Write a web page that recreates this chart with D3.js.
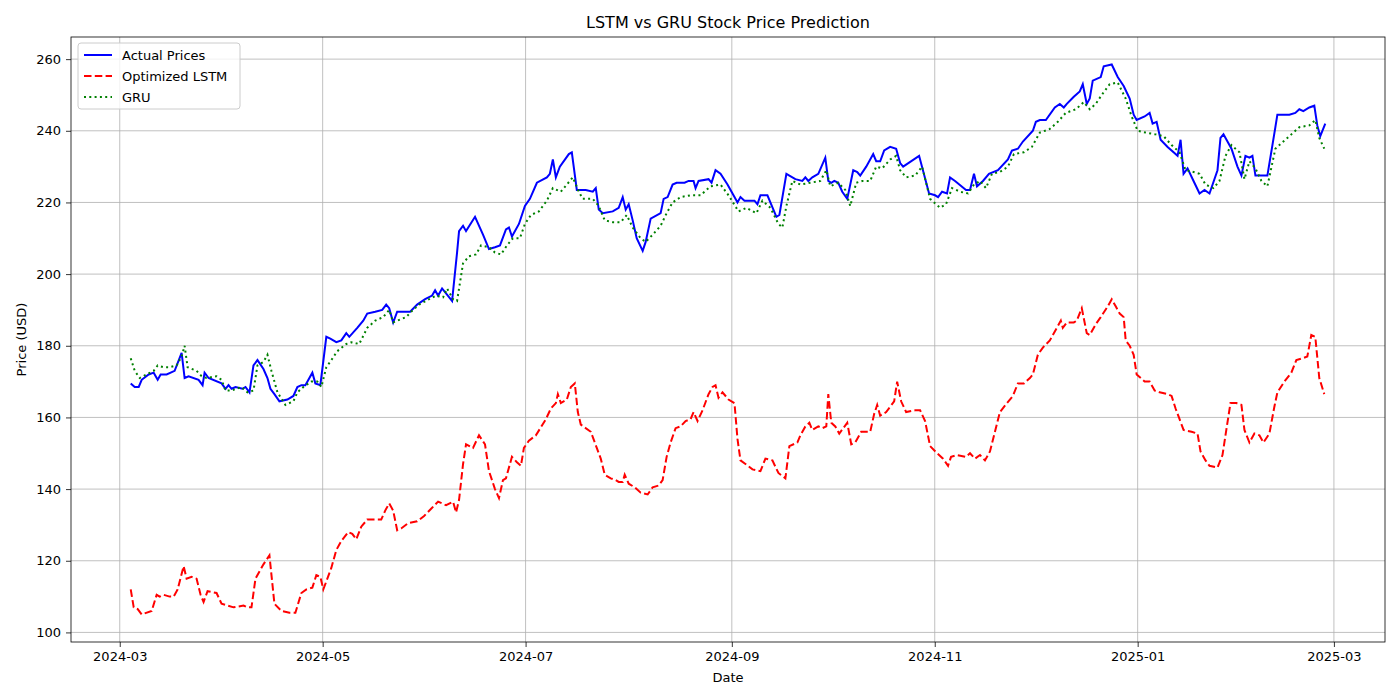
<!DOCTYPE html>
<html><head><meta charset="utf-8">
<script src="https://cdn.jsdelivr.net/npm/d3@7"></script>
<style>body{margin:0;background:#fff;font-family:"DejaVu Sans",sans-serif}</style>
</head><body><svg id="c" width="1400" height="700"></svg>
<script>
// x values: days since 2024-03-01
const actualDays=[3.3,4.5,5.7,6.6,8.7,10.2,11.4,12.3,14.1,16.5,18.6,19.5,20.7,23.7,24.9,25.5,26.7,30.6,31.8,32.7,33.6,34.8,36.9,37.8,39,40.2,41.4,43.2,44.4,45.3,46.5,48,50.4,52.2,53.4,54.6,55.8,57.9,58.8,60.3,62.1,63.3,65.1,66.6,68.1,69,71.4,73.2,74.4,76.8,78.9,80.1,81,82.2,83.4,87.3,89.4,91.8,93.9,94.8,95.7,96.9,99.9,101.4,102,103.2,104.1,106.8,109.2,111,112.8,114.3,116.1,117,117.9,120,121.8,123.3,125.4,128.4,129.3,130.2,131.1,132.3,135,135.9,137.4,140.1,142.2,143.1,144,145.2,148.2,150,151.2,152.1,153,154.2,155.4,157.2,158.1,159.6,162.6,163.5,164.7,166.2,167.4,169.8,171,172.5,173.1,174,177,177.9,179.1,180.6,182.7,184.8,185.7,186.6,187.8,190.8,191.7,192.6,194.7,197.4,198.3,200.4,203.1,205.2,206.1,207,208.2,210,212.1,213,213.9,214.8,216,217.2,218.7,220.5,221.7,222.6,224.4,226.5,227.4,228.6,229.8,231.6,233.4,234.6,235.5,240.3,243.3,245.1,246,247.2,248.7,249.6,251.1,254.4,255.6,256.8,257.7,259.5,261.3,264,267,268.2,270,271.5,274.5,275.4,276.6,278.4,281.1,282.6,283.8,284.7,286.8,288.6,289.5,290.7,291.6,292.5,294.9,295.8,298.2,300,301.8,303.6,304.8,305.7,308.1,309.6,310.5,311.7,312.9,315,316.8,318,318.9,319.8,321,322.8,324.6,326.1,327.6,330,330.9,331.8,334.2,336,337.2,338.4,339.6,340.5,341.4,343.8,345,347.4,348,351.6,353.4,354.6,355.8,357.6,359.1,360,360.9,362.4];
const actual=[169.5,168.5,168.5,170.5,172,172.5,170.5,172,172,173,178,171,171.5,170.5,169,172.5,171,169.5,168,169,168,168.5,168,168.5,167,174.5,176,173.5,171,168,166.5,164.5,165,166,168.5,169,169,172.5,169.5,169,182.5,182,181,181.5,183.5,182.5,185,187,189,189.5,190,191.5,190.5,186.5,189.5,189.5,191.5,193,194,195.5,194,196,192.5,206,212,213.5,212,216,211,207,207.5,208,212.5,213,210.5,214,219,221,225.5,227,228,232,227,230,233.5,234,223.5,223.5,223,224,218,217,217.5,218.5,221.5,218,219.5,215,210,206.5,209,215.5,217,221,221.5,225,225.5,225.5,226,226,224,226,226.5,225.5,229,228,225,221.5,220,221.5,220.5,220.5,219.5,222,222,216,216.5,228,226.5,226,227,226,227,228,232.5,226,225.5,226,225.5,223,221,229,228.5,227.5,230,233.5,231.5,231.5,234.5,235.5,235,231,230,233,222.5,222,221.5,223,222.5,227,226,223.5,223.5,228,224.5,226,228,229,232,234.5,235,237,240,242.5,243,243,246.5,247.5,246.5,247.5,249.5,251,253,247.5,249,254,255,258,258.5,255,252.5,249,244.5,243,244,245,242,242.5,237.5,235.5,234,233,237.5,228,229.5,226,222.5,223.5,222.5,229,238,239,235,230,227.5,233,232.5,233,227.5,227.5,227.5,241,244.5,244.5,245,246,245.5,246.5,247,241.5,238.5,242];
const lstmDays=[3.3,4.2,5.4,6.6,9.6,11.1,12,13.2,15,16.2,17.4,19.2,20.1,21.6,23.1,24.3,25.2,26.4,29.1,30.6,32.4,34.2,37.2,38.4,39.6,40.8,42,43.2,45,46.5,48.6,51,52.8,54.6,56.1,57.9,59.1,60.3,61.2,63.6,65.1,66.6,68.7,69.9,71.1,72.6,74.4,76.8,78.6,79.8,81,82.2,83.4,84.6,86.7,89.4,91.5,93.6,95.7,98.1,100.2,101.1,102,103.2,104.1,106.2,108,109.8,111,112.8,114,115.2,116.1,117.9,119.4,120.6,121.5,123,125.1,128.1,129.6,131.1,131.7,132.6,134.4,135.6,136.8,137.7,138.6,141.6,143.4,144.6,145.8,147.6,149.1,150,151.2,151.8,153,154.8,156.6,158.7,160.2,162,163.2,164.4,165.6,167.1,168.6,170.1,171.6,172.5,173.7,175.2,177,178.2,179.1,180,181.2,183,184.8,185.7,186.6,188.1,190.2,192.6,194.1,196.2,198,200.1,201.3,203.7,204.6,206.1,207.3,208.2,210,211.2,212.4,213,213.9,215.1,216.3,217.5,218.7,219.9,221.1,222.9,225.6,226.8,227.7,228.6,230.4,231.6,232.8,233.7,234.9,236.4,239.1,240.6,242.1,243.6,245.7,247.5,249,249.9,251.7,254.4,255.6,257.1,258.6,260.1,261.6,263.1,264.6,266.7,268.5,270,271.8,273.6,274.5,276,277.5,279.6,281.1,282.9,283.5,284.7,286.8,287.7,289.2,290.7,291.6,293.4,294.9,297,298.2,299.4,300.6,301.8,302.4,303.6,304.8,305.7,308.1,309.6,311.1,312.6,315,316.2,317.4,318.6,319.8,322.2,324,324.9,326.4,327.6,330,331.5,332.4,333.9,335.7,337.2,338.1,339.6,341.1,342.6,343.8,345.6,347.1,348,350.1,352.2,353.7,355.5,357,358.2,359.4,360.6,362.1];
const lstm=[112,107,106.5,105,106,110.5,110,110.5,110,110,112,118.5,115,115.5,115,110.5,108.5,111.5,111,108,107.5,107,107.5,107,107,115,117,119,121.5,108,106,105.5,105.5,111,112,112.5,116,115.5,112,118,123,125.5,128,127.5,126,129.5,131.5,131.5,131.5,134,136,134,128.5,129,130.5,131,132.5,134.5,136.5,135.5,136.5,133.5,137,147,152.5,151.5,155,152.5,145,140,137.5,142.5,143,149,147.5,146.5,151.5,153.5,155,159.5,162.5,164,166.5,164,165,168.5,169.5,161.5,158,156,151.5,148.5,144,143,142.5,142,142,144,141.5,140.5,139,138.5,140.5,141,142.5,149,153,157,157.5,159,159.5,161.5,159,162,166.5,168.5,169,165.5,167,165,164,154,148,147,145.5,145,148.5,148,144.5,143,152,153,155,157.5,158.5,156.5,157.5,157,157.5,166.5,158.5,157.5,155.5,157,158.5,152.5,153,156,156,161,163.5,160.5,161.5,163,164.5,170,164.5,161.5,162,162,159,152,150,148.5,146.5,149,149.5,149,150,148.5,149.5,148,150.5,156,161.5,164,166,169.5,169.5,171,172,177.5,179.5,181.5,184,187,185,186.5,186.5,187,190.5,183.5,183,186,188,191,193,191,189,188,181.5,180,177.5,172,170,170,167.5,167,166.5,166,162.5,159.5,156.5,156,155.5,150.5,148,146.5,146,149.5,155,164,164,163.5,156.5,153,155.5,155,153,155.5,163,167,170,172.5,176,176.5,177,183,182.5,171,166.5];
const gruDays=[3.3,4.5,6,8.1,10.2,11.4,13.2,15,17.1,18.6,19.5,20.4,23.1,24.6,26.1,29.1,30.6,31.8,33.6,36.6,38.4,40.2,41.4,43.2,44.4,45.6,47.4,49.8,52.2,53.4,55.2,57.6,59.4,60.6,62.1,63.6,65.4,68.1,69.6,72,74.4,76.8,79.2,81,82.2,83.4,86.1,87.6,90,93,95.1,97.2,98.4,100.2,101.4,103.2,105,107.1,108.6,111,112.8,114.6,116.4,118.2,120.3,121.8,123.6,126,128.4,130.2,132.6,134.4,136.2,138,139.2,142.2,144,145.8,148.2,150.6,152.4,154.2,156.6,158.1,160.2,162.6,164.4,166.2,168.6,171.6,174.6,177.6,180.6,183,186,188.4,191.4,193.2,195.6,198,199.2,200.4,202.2,204.6,207.6,210.6,212.4,213.6,216,218.1,219.6,221.4,223.2,225.6,227.4,229.2,231.6,233.4,234.6,236.4,239.1,241.2,243.6,246.6,248.4,250.2,252.6,255,256.8,258.6,260.4,262.2,264.6,267,268.8,271.8,274.2,276.6,279.6,282,284.4,287.4,289.8,291.6,293.4,295.2,297.6,300,302.4,304.2,306,308.4,311.4,313.8,316.2,318.6,320.4,322.8,324.6,326.4,328.8,330.6,332.4,334.2,336.6,338.1,339.6,341.4,343.2,345,347.4,349.8,352.2,354.6,357.6,359.4,360.6,362.1];
const gru=[176.5,173,171,172,173,174.5,174,174,174.5,177,180,174,173,171.5,171,171.5,170.5,167.5,167.5,168.5,167,167.5,174.5,175.5,177.5,173,167,163.5,164.5,167,168.5,170,170,168.5,174,176,178.5,180.5,181,180.5,185,187,188,190,186.5,187,188,189.5,191.5,193,194,193.5,196,193,192.5,203,205,205.5,208,207.5,206,205.5,208,210,210,214,216.5,217.5,220.5,224,223,225,227,223,221,221,219,215,214.5,214.5,216.5,213,210,209,211,213.5,217,220,221.5,222,222,224.5,225,222,217.5,218.5,217,220.5,218.5,214,213,219,226,225,225.5,226,229,224.5,225.5,223.5,219,225.5,226,226,230,229.5,232,233,229,227,227.5,230,221,218.5,219.5,224,223,222.5,225,226,224,228,228.5,230,233.5,234,235.5,239.5,240.5,242.5,245,246,248,246,247.5,250,253,253.5,249,244,240,239.5,239,238.5,236,234,229,228.5,228,225,224,226,233,236,234,226.5,231.5,229.5,226,224.5,235,237,239,241,241.5,243,238,235];
const yTicks=[100,120,140,160,180,200,220,240,260];
const seriesNames=["Actual Prices","Optimized LSTM","GRU"];

const W=1400,H=700,L=71,R=1385,T=37,B=642;
const base=new Date(2024,2,1).getTime();
const toDate=d=>new Date(base+d*86400000);
const svg=d3.select("#c");
const allDays=actualDays.concat(lstmDays,gruDays);
const [d0,d1]=d3.extent(allDays),dp=(d1-d0)*0.05;
const x=d3.scaleTime().domain([toDate(d0-dp),toDate(d1+dp)]).range([L,R]);
const allV=actual.concat(lstm,gru);
const [v0,v1]=d3.extent(allV),vp=(v1-v0)*0.05;
const y=d3.scaleLinear().domain([v0-vp,v1+vp]).range([B,T]);
const xTicks=d3.timeMonth.every(2).range(new Date(2024,2,1),new Date(2025,2,2));

const g=svg.append("g");
// grid
g.selectAll(".gx").data(xTicks).join("line").attr("x1",d=>x(d)).attr("x2",d=>x(d)).attr("y1",T).attr("y2",B).attr("stroke","#b0b0b0").attr("stroke-width",0.8);
g.selectAll(".gy").data(yTicks).join("line").attr("x1",L).attr("x2",R).attr("y1",d=>y(d)).attr("y2",d=>y(d)).attr("stroke","#b0b0b0").attr("stroke-width",0.8);

const ax=svg.append("g").attr("transform",`translate(0,${B})`).call(d3.axisBottom(x).tickValues(xTicks).tickFormat(d3.timeFormat("%Y-%m")).tickSize(5).tickPadding(5));
const ay=svg.append("g").attr("transform",`translate(${L},0)`).call(d3.axisLeft(y).tickValues(yTicks).tickSize(5).tickPadding(5));
[ax,ay].forEach(a=>{a.select(".domain").remove();a.selectAll("text").attr("font-family","DejaVu Sans").attr("font-size",13).attr("fill","#000");a.selectAll("line").attr("stroke","#000").attr("stroke-width",0.8);});

const line=(days,vals)=>d3.line().x((d,i)=>x(toDate(days[i]))).y(d=>y(d))(vals);
svg.append("path").attr("d",line(actualDays,actual)).attr("fill","none").attr("stroke","#0000ff").attr("stroke-width",2);
svg.append("path").attr("d",line(lstmDays,lstm)).attr("fill","none").attr("stroke","#ff0000").attr("stroke-width",2).attr("stroke-dasharray","7.5,3.3");
svg.append("path").attr("d",line(gruDays,gru)).attr("fill","none").attr("stroke","#008000").attr("stroke-width",2).attr("stroke-dasharray","2,3.3");

svg.append("rect").attr("x",L).attr("y",T).attr("width",R-L).attr("height",B-T).attr("fill","none").attr("stroke","#000").attr("stroke-width",0.8);

svg.append("text").attr("x",(L+R)/2).attr("y",28).attr("text-anchor","middle").attr("font-size",16).text("LSTM vs GRU Stock Price Prediction");
svg.append("text").attr("x",(L+R)/2).attr("y",682).attr("text-anchor","middle").attr("font-size",13).text("Date");
svg.append("text").attr("transform",`translate(26,${(T+B)/2}) rotate(-90)`).attr("text-anchor","middle").attr("font-size",13).text("Price (USD)");

// legend
const lg=svg.append("g").attr("transform","translate(78,43)");
lg.append("rect").attr("width",162).attr("height",66).attr("rx",3).attr("fill","#fff").attr("fill-opacity",0.8).attr("stroke","#ccc");
const styles=[["#0000ff",null],["#ff0000","7.5,3.3"],["#008000","2,3.3"]];
seriesNames.forEach((n,i)=>{
  const yy=12+i*21;
  lg.append("line").attr("x1",6).attr("x2",34).attr("y1",yy).attr("y2",yy).attr("stroke",styles[i][0]).attr("stroke-width",2).attr("stroke-dasharray",styles[i][1]);
  lg.append("text").attr("x",44).attr("y",yy+4.5).attr("font-size",13).text(n);
});
</script></body></html>
